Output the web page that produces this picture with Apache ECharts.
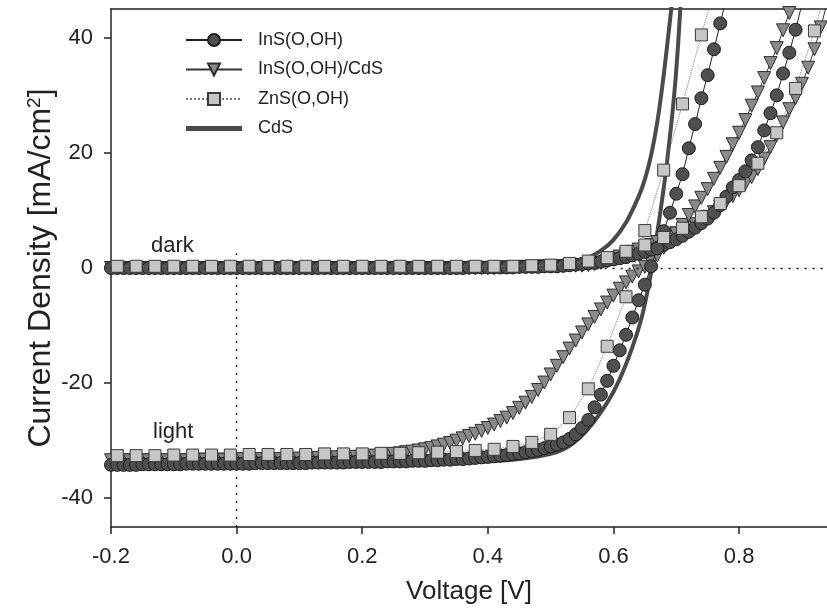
<!DOCTYPE html>
<html>
<head>
<meta charset="utf-8">
<script src="https://cdn.jsdelivr.net/npm/echarts@6/dist/echarts.min.js"></script>
<style>
html,body{margin:0;padding:0;background:#fff;}
#chart{width:827px;height:612px;}
</style>
</head>
<body>
<div id="chart"></div>
<script>
// ---------- DATA ----------
const seriesNames = ['InS(O,OH)', 'InS(O,OH)/CdS', 'ZnS(O,OH)', 'CdS'];
const xTicks = [-0.2, 0.0, 0.2, 0.4, 0.6, 0.8];
const yTicks = [-40, -20, 0, 20, 40];

// voltage grid (V) used for InS(O,OH) and InS(O,OH)/CdS
const V1 = [
 -0.20,-0.19,-0.18,-0.17,-0.16,-0.15,-0.14,-0.13,-0.12,-0.11,
 -0.10,-0.09,-0.08,-0.07,-0.06,-0.05,-0.04,-0.03,-0.02,-0.01,
 0.00,0.01,0.02,0.03,0.04,0.05,0.06,0.07,0.08,0.09,
 0.10,0.11,0.12,0.13,0.14,0.15,0.16,0.17,0.18,0.19,
 0.20,0.21,0.22,0.23,0.24,0.25,0.26,0.27,0.28,0.29,
 0.30,0.31,0.32,0.33,0.34,0.35,0.36,0.37,0.38,0.39,
 0.40,0.41,0.42,0.43,0.44,0.45,0.46,0.47,0.48,0.49,
 0.50,0.51,0.52,0.53,0.54,0.55,0.56,0.57,0.58,0.59,
 0.60,0.61,0.62,0.63,0.64,0.65,0.66,0.67,0.68,0.69,
 0.70,0.71,0.72,0.73,0.74,0.75,0.76,0.77,0.78,0.79,
 0.80,0.81,0.82,0.83,0.84,0.85,0.86,0.87,0.88,0.89,
 0.90,0.91,0.92,0.93,0.94
];

// InS(O,OH) light (mA/cm2)
const insLight = [
 -34.2,-34.2,-34.2,-34.2,-34.2,-34.1,-34.1,-34.1,-34.1,-34.1,
 -34.1,-34.1,-34.0,-34.0,-34.0,-34.0,-34.0,-34.0,-34.0,-34.0,
 -34.0,-34.0,-34.0,-33.9,-33.9,-33.9,-33.9,-33.9,-33.9,-33.9,
 -33.9,-33.9,-33.8,-33.8,-33.8,-33.8,-33.8,-33.8,-33.7,-33.7,
 -33.7,-33.7,-33.7,-33.7,-33.6,-33.6,-33.6,-33.6,-33.5,-33.5,
 -33.5,-33.4,-33.4,-33.3,-33.3,-33.2,-33.2,-33.1,-33.0,-32.9,
 -32.8,-32.7,-32.6,-32.5,-32.3,-32.2,-32.0,-31.8,-31.6,-31.3,
 -31.0,-30.7,-30.3,-29.7,-28.9,-27.8,-26.4,-24.2,-22.0,-19.6,
 -17.0,-14.3,-11.6,-8.6,-5.6,-2.9,0.3,3.4,6.4,9.6,
 12.9,16.3,20.8,25.0,29.5,33.5,38.0,42.5,47.0
];
// InS(O,OH) dark
const insDark = [
 0.0,0.0,0.0,0.0,0.0,0.0,0.0,0.0,0.0,0.0,
 0.0,0.0,0.0,0.0,0.0,0.0,0.0,0.0,0.0,0.0,
 0.0,0.0,0.0,0.0,0.0,0.0,0.0,0.0,0.0,0.0,
 0.0,0.0,0.0,0.0,0.0,0.0,0.0,0.0,0.0,0.0,
 0.0,0.0,0.0,0.0,0.0,0.0,0.0,0.0,0.0,0.0,
 0.0,0.0,0.0,0.0,0.0,0.0,0.0,0.1,0.1,0.1,
 0.1,0.1,0.1,0.1,0.1,0.2,0.2,0.2,0.2,0.3,
 0.3,0.3,0.4,0.5,0.6,0.7,0.8,0.9,1.1,1.3,
 1.5,1.7,1.9,2.2,2.5,2.8,3.2,3.5,4.0,4.5,
 5.0,5.6,6.3,7.0,7.8,8.6,9.6,10.9,12.4,14.0,
 15.3,16.8,18.7,21.0,23.9,26.9,30.0,33.8,37.4,41.4,
 45.8
];
// InS(O,OH)/CdS light
const triLight = [
 -33.4,-33.4,-33.4,-33.4,-33.4,-33.4,-33.4,-33.4,-33.4,-33.4,
 -33.4,-33.4,-33.4,-33.3,-33.3,-33.3,-33.3,-33.3,-33.3,-33.3,
 -33.2,-33.2,-33.2,-33.2,-33.2,-33.2,-33.2,-33.2,-33.2,-33.2,
 -33.1,-33.1,-33.1,-33.0,-33.0,-33.0,-32.9,-32.9,-32.9,-32.8,
 -32.8,-32.7,-32.6,-32.5,-32.4,-32.3,-32.2,-32.0,-31.9,-31.7,
 -31.5,-31.3,-31.0,-30.7,-30.4,-30.0,-29.6,-29.2,-28.8,-28.3,
 -27.8,-27.2,-26.6,-26.0,-25.2,-24.3,-23.4,-22.4,-21.2,-19.9,
 -18.5,-17.0,-15.5,-14.0,-12.6,-11.2,-9.8,-8.5,-7.2,-6.0,
 -4.8,-3.6,-2.5,-1.5,-0.6,0.2,1.0,2.2,3.5,4.8,
 6.0,7.5,9.2,10.7,12.2,13.7,15.5,17.4,19.3,21.5,
 23.5,25.7,28.2,30.5,33.0,35.6,38.2,41.3,44.3,47.5
];
// InS(O,OH)/CdS dark
const triDark = [
 0.0,0.0,0.0,0.0,0.0,0.0,0.0,0.0,0.0,0.0,
 0.0,0.0,0.0,0.0,0.0,0.0,0.0,0.0,0.0,0.0,
 0.0,0.0,0.0,0.0,0.0,0.0,0.0,0.0,0.0,0.0,
 0.0,0.0,0.0,0.0,0.0,0.0,0.0,0.0,0.0,0.0,
 0.0,0.0,0.0,0.0,0.0,0.0,0.0,0.0,0.0,0.0,
 0.0,0.0,0.0,0.0,0.0,0.0,0.0,0.0,0.0,0.0,
 0.0,0.0,0.1,0.1,0.1,0.1,0.2,0.2,0.2,0.3,
 0.3,0.3,0.3,0.4,0.4,0.4,0.5,0.7,0.9,1.2,
 1.6,2.0,2.4,2.8,3.2,3.6,4.0,4.5,5.0,5.5,
 6.0,6.5,7.0,7.6,8.2,8.9,9.7,10.6,11.6,12.5,
 13.5,14.6,15.8,17.2,19.0,21.0,23.1,25.3,27.6,29.5,
 32.0,34.8,38.0,41.8,46.0
];

// voltage grid (V) used for ZnS(O,OH)
const V3 = [
 -0.19,-0.16,-0.13,-0.10,-0.07,-0.04,-0.01,0.02,0.05,0.08,
 0.11,0.14,0.17,0.20,0.23,0.26,0.29,0.32,0.35,0.38,
 0.41,0.44,0.47,0.50,0.53,0.56,0.59,0.62,0.65,0.68,
 0.71,0.74,0.77,0.80,0.83,0.86,0.89,0.92,0.95
];
const znsLight = [
 -32.6,-32.6,-32.6,-32.5,-32.5,-32.5,-32.5,-32.4,-32.4,-32.4,
 -32.4,-32.3,-32.3,-32.3,-32.2,-32.2,-32.1,-32.0,-31.9,-31.7,
 -31.5,-31.0,-30.3,-28.9,-26.0,-21.0,-13.6,-5.0,6.5,17.0,
 28.5,40.5,52.0
];
const znsDark = [
 0.3,0.3,0.3,0.3,0.3,0.3,0.3,0.3,0.3,0.3,
 0.3,0.3,0.3,0.3,0.3,0.3,0.3,0.3,0.3,0.3,
 0.3,0.3,0.4,0.5,0.8,1.2,1.8,2.9,4.0,5.3,
 6.9,8.9,11.2,14.3,18.2,23.5,31.2,41.2,53.0
];

// CdS (line only)
const cdsDarkV = [-0.20,0.00,0.20,0.40,0.45,0.50,0.53,0.56,0.58,0.60,0.62,0.64,0.65,0.66,0.67,0.68,0.69,0.695];
const cdsDarkJ = [0.0,0.0,0.0,0.1,0.2,0.5,0.9,1.8,3.0,4.9,7.9,12.4,15.4,19.6,25.5,33.5,43.0,48.0];
const cdsLightV = [-0.20,0.00,0.20,0.30,0.40,0.45,0.50,0.53,0.56,0.59,0.61,0.63,0.645,0.655,0.662,0.668,0.675,0.682,0.688,0.694,0.699,0.703,0.707,0.711];
const cdsLightJ = [-34.3,-34.2,-34.1,-34.0,-33.6,-33.2,-32.3,-30.9,-27.9,-23.4,-19.3,-13.8,-8.6,-3.6,0.5,4.8,10.0,15.5,21.0,27.0,33.0,39.0,46.0,52.0];

// dotted reference lines
const refZeroV = 0.0;
const refZeroJ = 0.0;
const refVTop = 2.5;

// ---------- CHART ----------
const FONT = "'Liberation Sans', Arial, Helvetica, sans-serif";
const X_MIN = -0.2, X_MAX = 0.94, Y_MIN = -45, Y_MAX = 45;
function zip(xs, ys) { return ys.map((y, i) => [xs[i], y]); }

const circleStyle = { color: '#4f4f4f', borderColor: '#1c1c1c', borderWidth: 1 };
const triStyle = { color: '#8a8a8a', borderColor: '#2e2e2e', borderWidth: 1 };
const sqStyle = { color: '#c6c6c6', borderColor: '#3a3a3a', borderWidth: 1 };
const cdsColor = '#4a4a4a';

function markerSeries(name, data, symbol, size, item, line, z, rot) {
  return {
    name: name, type: 'line', data: data, symbol: symbol, symbolSize: size,
    symbolRotate: rot || 0, showAllSymbol: true, itemStyle: item,
    lineStyle: line, z: z, animation: false, emphasis: { disabled: true }
  };
}
function cdsSeries(data) {
  return { name: 'CdS', type: 'line', data: data, symbol: 'none', smooth: 0.3,
    itemStyle: { color: cdsColor }, lineStyle: { color: cdsColor, width: 4 },
    z: 3, animation: false, emphasis: { disabled: true } };
}

const chart = echarts.init(document.getElementById('chart'), null, { renderer: 'canvas' });
chart.setOption({
  backgroundColor: '#ffffff',
  animation: false,
  textStyle: { fontFamily: FONT },
  grid: { left: 111, right: 0, top: 9, bottom: 85, show: false, containLabel: false },
  legend: {
    data: [seriesNames[0], seriesNames[1], seriesNames[2],
      { name: seriesNames[3], icon: 'path://M0,0 L56,0 L56,5 L0,5 Z' }],
    orient: 'vertical', left: 180, top: 26,
    itemWidth: 56, itemHeight: 15, itemGap: 11.5,
    textStyle: { fontSize: 18, color: '#222', fontFamily: FONT, padding: [0, 0, 0, 11] },
    selectedMode: false
  },
  xAxis: [{
    type: 'value', min: X_MIN, max: X_MAX,
    name: 'Voltage [V]', nameLocation: 'middle', nameGap: 52,
    nameTextStyle: { fontSize: 26, color: '#222', fontFamily: FONT },
    axisLine: { show: true, onZero: false, lineStyle: { color: '#222', width: 1.5 } },
    axisTick: { show: true, inside: false, length: 7, customValues: xTicks, lineStyle: { color: '#222', width: 1.5 } },
    axisLabel: { customValues: xTicks, fontSize: 22, color: '#222', margin: 19, fontFamily: FONT,
      formatter: v => v.toFixed(1) },
    splitLine: { show: false }
  }, {
    type: 'value', min: X_MIN, max: X_MAX, position: 'top',
    axisLine: { show: true, onZero: false, lineStyle: { color: '#222', width: 1.5 } },
    axisTick: { show: false }, axisLabel: { show: false }, splitLine: { show: false }
  }],
  yAxis: {
    type: 'value', min: Y_MIN, max: Y_MAX,
    name: '{a|Current Density [mA/cm}{s|2}{a|]}', nameLocation: 'middle', nameGap: 53,
    nameMoveOverlap: false,
    nameTextStyle: { rich: {
      a: { fontSize: 32, color: '#222', fontFamily: FONT },
      s: { fontSize: 19, color: '#222', fontFamily: FONT, verticalAlign: 'top', padding: [0, 0, 14, 0] }
    } },
    axisLine: { show: true, onZero: false, lineStyle: { color: '#222', width: 1.5 } },
    axisTick: { show: true, inside: false, length: 7, customValues: yTicks, lineStyle: { color: '#222', width: 1.5 } },
    axisLabel: { customValues: yTicks, fontSize: 22, color: '#222', margin: 18, fontFamily: FONT },
    splitLine: { show: false }
  },
  graphic: [
    { type: 'text', left: 151, top: 235, style: { text: 'dark', fontSize: 22, fill: '#222', fontFamily: FONT } },
    { type: 'text', left: 153, top: 421, style: { text: 'light', fontSize: 22, fill: '#222', fontFamily: FONT } }
  ],
  series: [
    {
      name: 'ref', type: 'line', data: [[refZeroV, refZeroJ]], symbol: 'none',
      lineStyle: { opacity: 0 }, z: 1, silent: true,
      markLine: {
        silent: true, symbol: 'none', animation: false,
        label: { show: false },
        lineStyle: { type: [2, 6], color: '#111', width: 1.3 },
        data: [
          [{ coord: [refZeroV, Y_MIN] }, { coord: [refZeroV, refVTop] }],
          [{ coord: [refZeroV, refZeroJ] }, { coord: [X_MAX, refZeroJ] }]
        ]
      }
    },
    cdsSeries(zip(cdsDarkV, cdsDarkJ)),
    cdsSeries(zip(cdsLightV, cdsLightJ)),
    markerSeries('InS(O,OH)/CdS', zip(V1, triDark), 'triangle', 13, triStyle, { color: '#333', width: 1 }, 4, 180),
    markerSeries('InS(O,OH)/CdS', zip(V1, triLight), 'triangle', 13, triStyle, { color: '#333', width: 1 }, 4, 180),
    markerSeries('InS(O,OH)', zip(V1, insDark), 'circle', 13, circleStyle, { color: '#222', width: 1 }, 5),
    markerSeries('InS(O,OH)', zip(V1, insLight), 'circle', 13, circleStyle, { color: '#222', width: 1 }, 5),
    markerSeries('ZnS(O,OH)', zip(V3, znsDark), 'rect', 12, sqStyle, { color: '#777', width: 1, type: 'dotted' }, 6),
    markerSeries('ZnS(O,OH)', zip(V3, znsLight), 'rect', 12, sqStyle, { color: '#777', width: 1, type: 'dotted' }, 6)
  ]
});
</script>
</body>
</html>
